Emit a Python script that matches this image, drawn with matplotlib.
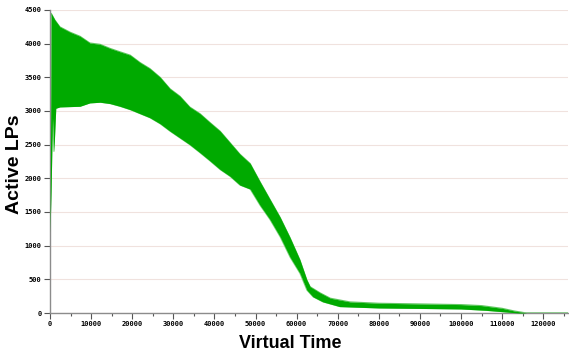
import numpy as np
import matplotlib.pyplot as plt
from matplotlib.ticker import MultipleLocator

# envelope of the active-LP count (upper / lower bound of the oscillating band)
t_upper = [0, 300, 1200, 2400, 4900, 7300, 9700, 12200, 14600, 17000, 19500,
           21900, 24300, 26800, 29200, 31600, 34000, 36500, 38900, 41400,
           43800, 46200, 48700, 51100, 53500, 56000, 58400, 60800, 62500,
           63300, 65700, 68200, 73000, 80000, 90000, 100000, 105000, 110000,
           113000, 116000, 126000]
lp_upper = [1200, 4450, 4350, 4250, 4170, 4110, 4010, 3990, 3930, 3880, 3830,
            3720, 3630, 3500, 3330, 3220, 3060, 2960, 2830, 2700,
            2530, 2360, 2220, 1950, 1690, 1420, 1120, 790, 490,
            390, 300, 220, 165, 145, 135, 125, 110, 70,
            30, 0, 0]

t_lower = [0, 0, 250, 600, 950, 1400, 2400, 7300, 9700, 12200, 14600, 17000,
           19500, 21900, 24300, 26800, 29200, 31600, 34000, 36500, 38900,
           41400, 43800, 46200, 48700, 51100, 53500, 56000, 58400, 60800,
           62500, 64000, 66400, 70500, 80000, 90000, 100000, 106000, 110000,
           114000, 126000]
lp_lower = [0, 1200, 1800, 2900, 2400, 3040, 3060, 3070, 3120, 3130, 3110, 3070,
            3020, 2960, 2900, 2810, 2700, 2600, 2500, 2380, 2260,
            2130, 2030, 1900, 1840, 1600, 1390, 1130, 830, 590,
            340, 240, 165, 95, 75, 68, 60, 40, 20,
            0, 0]

fig = plt.figure(figsize=(5.69, 3.54), dpi=100)
ax = fig.add_axes([0.0879, 0.1158, 0.9101, 0.856])

# fill the band on a common time grid
t_all = np.union1d(t_upper, t_lower)
up = np.interp(t_all, t_upper, lp_upper)
lo = np.interp(t_all, t_lower, lp_lower)
ax.fill_between(t_all, lo, up, color='#00aa00', lw=0, zorder=3)
ax.plot(t_upper, lp_upper, color='#66c866', lw=0.8, zorder=2)
ax.plot(t_lower, lp_lower, color='#80d480', lw=0.8, zorder=2)

ax.set_xlim(0, 126000)
ax.set_ylim(0, 4500)
ax.yaxis.set_major_locator(MultipleLocator(500))
ax.xaxis.set_minor_locator(MultipleLocator(5000))
ax.set_xticks(range(0, 130000, 10000))
ax.set_xticklabels([str(v) for v in range(0, 130000, 10000)])

ax.grid(axis='y', color='#f0e2de', lw=0.8, zorder=0)
ax.set_axisbelow(True)
for s in ['top', 'right']:
    ax.spines[s].set_visible(False)
for s in ['left', 'bottom']:
    ax.spines[s].set_color('#8c8c8c')
    ax.spines[s].set_linewidth(1.0)

ax.tick_params(axis='both', which='major', length=4, width=0.8, color='#555555',
               labelsize=5, pad=2)
ax.tick_params(axis='x', which='minor', length=2.5, width=0.8, color='#555555')
for lab in ax.get_xticklabels() + ax.get_yticklabels():
    lab.set_fontfamily('DejaVu Sans Mono')
    lab.set_fontweight('bold')

fig.text(290 / 569, 11 / 354, 'Virtual Time', ha='center', va='center',
         fontsize=13, fontweight='bold', family='Liberation Sans')
fig.text(15 / 569, 1 - 164 / 354, 'Active LPs', ha='center', va='center',
         rotation=90, fontsize=14, fontweight='bold', family='Liberation Sans')

fig.savefig('out.png', dpi=100)
